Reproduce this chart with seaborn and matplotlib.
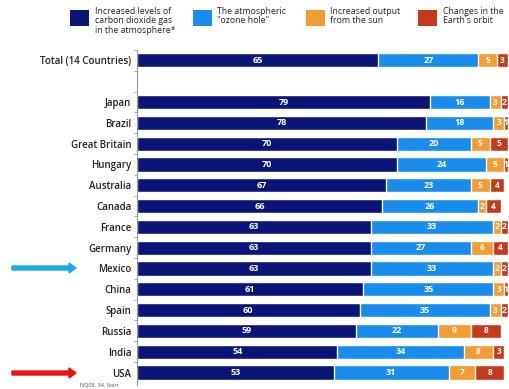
import matplotlib
matplotlib.use("Agg")
import matplotlib.pyplot as plt
import seaborn as sns
import pandas as pd
import numpy as np
from matplotlib.patches import Rectangle, FancyArrow

countries = ["Total (14 Countries)", "Japan", "Brazil", "Great Britain", "Hungary",
             "Australia", "Canada", "France", "Germany", "Mexico", "China", "Spain",
             "Russia", "India", "USA"]
co2 = [65, 79, 78, 70, 70, 67, 66, 63, 63, 63, 61, 60, 59, 54, 53]
ozone = [27, 16, 18, 20, 24, 23, 26, 33, 27, 33, 35, 35, 22, 34, 31]
sun = [5, 3, 3, 5, 5, 5, 2, 2, 6, 2, 3, 3, 9, 8, 7]
orbit = [3, 2, 1, 5, 1, 4, 4, 2, 4, 2, 1, 2, 8, 3, 8]

series_names = ["Increased levels of\ncarbon dioxide gas\nin the atmosphere*",
                "The atmospheric\n\"ozone hole\"",
                "Increased output\nfrom the sun",
                "Changes in the\nEarth's orbit"]
colors = ["#0b1477", "#1a8cec", "#f39c34", "#c53a1d"]

sns.set_theme(style="white")
plt.rcParams["font.family"] = ["Open Sans", "DejaVu Sans"]

df = pd.DataFrame({"country": countries, "co2": co2, "ozone": ozone,
                   "sun": sun, "orbit": orbit})
vals = df[["co2", "ozone", "sun", "orbit"]].to_numpy()
cum = vals.cumsum(axis=1)
for i, c in enumerate(["c1", "c2", "c3", "c4"]):
    df[c] = cum[:, i]

order = [countries[0], " "] + countries[1:]

fig = plt.figure(figsize=(5.10, 3.89), dpi=100)
ax = fig.add_axes([137 / 510, 4 / 389, 373 / 510, 335 / 389])

for i in range(3, -1, -1):
    sns.barplot(data=df, x=f"c{i+1}", y="country", order=order, color=colors[i],
                orient="h", width=0.68, edgecolor="white", linewidth=1.0,
                saturation=1, ax=ax)

ypos = {name: order.index(name) for name in countries}
for r, name in enumerate(countries):
    y = ypos[name]
    for i in range(4):
        v = vals[r, i]
        xc = cum[r, i] - v / 2
        fs = 6.5 if i < 2 else 6
        ax.text(xc, y, f"{v}", ha="center", va="center", color="white",
                fontsize=fs, fontweight="bold")

ax.set_xlim(0, 100.5)
ax.set_ylim(15.6, -0.5)
ax.set_xlabel("")
ax.set_ylabel("")
ax.set_xticks([])
ax.tick_params(axis="y", length=0, pad=4, labelsize=7)
for lab in ax.get_yticklabels():
    lab.set_fontweight("semibold")
    lab.set_color("#222222")
ax.set_yticks(np.arange(-0.5, 15.5, 1.0), minor=True)
ax.tick_params(axis="y", which="minor", length=2, color="#999999", width=0.6, left=True)
for s in ["top", "right", "bottom"]:
    ax.spines[s].set_visible(False)
ax.spines["left"].set_color("#999999")
ax.spines["left"].set_linewidth(0.8)

# legend: squares top-aligned with multi-line labels
sq_x = [70, 193, 306, 418]
tx_x = [95, 217, 330, 443]
for c, name, sx, tx in zip(colors, series_names, sq_x, tx_x):
    fig.add_artist(Rectangle((sx / 510, 1 - 26 / 389), 19 / 510, 16 / 389,
                             facecolor=c, edgecolor="none", transform=fig.transFigure))
    fig.text(tx / 510, 1 - 7 / 389, name, fontsize=6.3, color="#222222",
             va="top", ha="left", linespacing=1.05)

# arrows marking Mexico and USA
fig.add_artist(FancyArrow(12 / 510, 1 - 268 / 389, 64 / 510, 0, width=4 / 389,
                          head_width=10 / 389, head_length=7 / 510,
                          length_includes_head=True, color="#1fa7e6",
                          transform=fig.transFigure))
fig.add_artist(FancyArrow(12 / 510, 1 - 373 / 389, 64 / 510, 0, width=4 / 389,
                          head_width=10 / 389, head_length=7 / 510,
                          length_includes_head=True, color="#f01010",
                          transform=fig.transFigure))

fig.text(80 / 510, 1 - 386 / 389, "NQ08. 34. Ikert", fontsize=4, color="#555555",
         va="center")

fig.savefig("out.png", dpi=100)
